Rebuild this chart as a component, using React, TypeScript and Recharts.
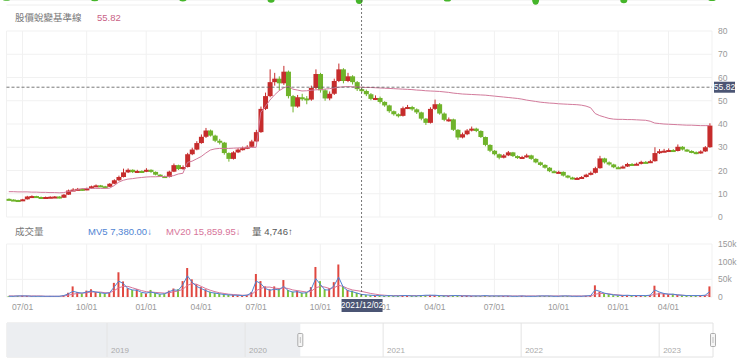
import {
  ComposedChart, Bar, Line, Scatter, XAxis, YAxis, CartesianGrid, ReferenceLine, ReferenceArea, Cell,
} from 'recharts';

const FONT = "'Liberation Sans', Arial, 'Noto Sans CJK TC', sans-serif";
const UP = '#c62c2c';
const DOWN = '#6fb32a';
const BASE_C = '#d27a9b';
const MV5_C = '#4f84d3';
const MV20_C = '#d7759a';
const GRID_C = '#f1f1f1';
const TICK_C = '#999';
const TAG_C = '#4b5574';

// weekly candles, 2020/06 -> 2023/05
const OPEN = [
  7.8, 7.5, 7.3, 7.1, 7.6, 8.8, 9.0, 8.6, 8.4, 8.6, 8.7, 8.8, 8.3, 9.6, 11.4, 11.8, 12.1, 11.6, 12.3, 13.2,
  13.6, 13.2, 13.0, 14.3, 15.8, 17.2, 19.2, 20.3, 19.3, 19.8, 19.5, 20.3, 19.4, 18.2, 17.6, 17.2, 19.5, 22.3, 20.6, 21.5,
  27.0, 29.0, 31.8, 34.5, 37.2, 35.0, 32.8, 32.0, 27.5, 25.0, 27.8, 29.0, 29.6, 30.2, 32.5, 36.5, 46.5, 52.0, 58.0, 59.5,
  57.5, 62.5, 52.0, 47.5, 51.5, 51.0, 50.5, 55.5, 61.5, 54.5, 51.0, 53.0, 58.5, 63.5, 58.5, 60.5, 58.0, 55.0, 54.2, 52.8,
  50.8, 51.2, 49.5, 48.0, 45.5, 44.2, 43.5, 46.8, 47.3, 46.3, 45.0, 42.3, 40.5, 46.5, 48.5, 44.5, 41.8, 42.0, 37.5, 34.2,
  35.6, 37.2, 38.0, 37.0, 34.4, 31.0, 28.5, 27.0, 25.5, 26.5, 27.8, 26.2, 25.4, 25.8, 26.5, 25.0, 23.5, 22.4, 21.2, 19.7,
  19.3, 19.4, 17.8, 17.0, 16.6, 16.8, 17.2, 18.2, 19.0, 21.0, 25.2, 23.5, 22.6, 21.4, 21.2, 21.7, 22.8, 22.6, 22.9, 23.7,
  23.5, 24.0, 27.5, 28.3, 28.5, 28.8, 28.4, 30.2, 29.0, 28.4, 27.9, 27.4, 28.2, 30.0,
];
const HIGH = [
  8.0, 7.6, 7.4, 7.8, 9.1, 9.3, 9.1, 8.8, 8.8, 8.9, 9.0, 8.9, 9.9, 11.8, 12.4, 12.5, 12.3, 12.6, 13.5, 14.0,
  13.8, 13.4, 14.6, 16.2, 17.8, 20.8, 20.9, 20.5, 20.3, 20.1, 21.0, 20.5, 19.6, 18.4, 17.8, 19.9, 23.0, 22.5, 22.2, 27.6,
  29.8, 32.6, 35.5, 38.3, 37.6, 35.4, 33.6, 32.3, 27.8, 28.3, 29.6, 30.3, 30.9, 33.2, 37.5, 47.5, 53.5, 63.5, 62.0, 60.5,
  65.0, 63.0, 52.5, 52.5, 53.0, 52.0, 56.5, 63.5, 62.0, 55.0, 54.0, 59.5, 66.0, 64.0, 62.0, 61.0, 58.5, 55.8, 54.8, 53.3,
  52.3, 51.8, 49.8, 48.3, 45.8, 44.6, 47.5, 48.2, 47.8, 46.7, 45.3, 42.6, 47.2, 50.5, 49.0, 45.0, 42.8, 42.3, 37.8, 36.3,
  37.8, 38.9, 38.4, 37.3, 34.6, 31.3, 28.8, 27.3, 27.1, 28.4, 28.0, 26.5, 26.3, 27.2, 26.8, 25.3, 23.8, 22.7, 21.5, 20.1,
  19.9, 19.6, 18.1, 17.3, 17.2, 17.6, 18.6, 19.6, 21.6, 26.3, 25.5, 23.9, 22.9, 21.8, 22.2, 23.3, 23.2, 23.4, 24.2, 24.1,
  24.6, 30.0, 29.2, 29.3, 29.5, 29.2, 31.2, 30.5, 29.3, 28.7, 28.2, 28.7, 30.5, 40.3,
];
const LOW = [
  7.3, 7.1, 6.9, 7.0, 7.5, 8.6, 8.4, 8.2, 8.3, 8.4, 8.5, 8.0, 8.2, 9.5, 11.2, 11.6, 11.3, 11.5, 12.1, 13.0,
  12.9, 12.7, 12.9, 14.1, 15.5, 17.0, 18.9, 18.9, 19.0, 19.1, 19.3, 19.0, 17.9, 17.3, 16.8, 17.0, 19.3, 20.2, 20.3, 21.3,
  26.6, 28.7, 31.5, 34.0, 34.6, 32.2, 31.2, 26.8, 23.8, 24.7, 27.5, 28.6, 29.2, 30.0, 32.2, 36.2, 46.0, 51.5, 56.5, 54.5,
  56.8, 51.0, 45.0, 47.0, 50.0, 48.5, 50.0, 55.0, 53.5, 50.0, 50.2, 52.5, 58.0, 57.5, 58.0, 57.0, 54.2, 53.5, 52.0, 50.2,
  50.3, 48.8, 47.4, 44.8, 43.6, 42.8, 43.2, 46.4, 45.7, 44.3, 41.6, 39.6, 40.2, 46.0, 44.0, 41.2, 41.0, 37.0, 33.2, 33.8,
  35.2, 36.8, 36.5, 34.0, 30.4, 27.9, 26.5, 24.8, 25.2, 26.2, 25.8, 25.0, 25.1, 25.5, 24.6, 23.1, 22.0, 20.8, 19.3, 18.9,
  19.0, 17.4, 16.6, 16.2, 16.3, 16.5, 17.0, 17.9, 18.7, 20.8, 23.0, 22.1, 21.0, 20.8, 20.9, 21.5, 22.1, 22.3, 22.6, 23.1,
  23.2, 23.8, 27.1, 27.9, 28.2, 28.0, 28.2, 28.6, 28.0, 27.4, 27.0, 27.2, 28.0, 29.8,
];
const CLOSE = [
  7.5, 7.3, 7.1, 7.6, 8.8, 9.0, 8.6, 8.4, 8.6, 8.7, 8.8, 8.3, 9.6, 11.4, 11.8, 12.1, 11.6, 12.3, 13.2, 13.6,
  13.2, 13.0, 14.3, 15.8, 17.2, 19.2, 20.3, 19.3, 19.8, 19.5, 20.3, 19.4, 18.2, 17.6, 17.2, 19.5, 22.3, 20.6, 21.5, 27.0,
  29.0, 31.8, 34.5, 37.2, 35.0, 32.8, 32.0, 27.5, 25.0, 27.8, 29.0, 29.6, 30.2, 32.5, 36.5, 46.5, 52.0, 58.0, 59.5, 57.5,
  62.5, 52.0, 47.5, 51.5, 51.0, 50.5, 55.5, 61.5, 54.5, 51.0, 53.0, 58.5, 63.5, 58.5, 60.5, 58.0, 55.0, 54.2, 52.8, 50.8,
  51.2, 49.5, 48.0, 45.5, 44.2, 43.5, 46.8, 47.3, 46.3, 45.0, 42.3, 40.5, 46.5, 48.5, 44.5, 41.8, 42.0, 37.5, 34.2, 35.6,
  37.2, 38.0, 37.0, 34.4, 31.0, 28.5, 27.0, 25.5, 26.5, 27.8, 26.2, 25.4, 25.8, 26.5, 25.0, 23.5, 22.4, 21.2, 19.7, 19.3,
  19.4, 17.8, 17.0, 16.6, 16.8, 17.2, 18.2, 19.0, 21.0, 25.2, 23.5, 22.6, 21.4, 21.2, 21.7, 22.8, 22.6, 22.9, 23.7, 23.5,
  24.0, 27.5, 28.3, 28.5, 28.8, 28.4, 30.2, 29.0, 28.4, 27.9, 27.4, 28.2, 30.0, 39.3,
];
// 股價蛻變基準線
const BASE = [
  10.9, 10.9, 10.8, 10.8, 10.8, 10.7, 10.7, 10.6, 10.6, 10.5, 10.5, 10.4, 10.5, 11.0, 11.2, 11.8, 12.2, 12.3, 12.3, 12.3,
  12.3, 12.3, 12.4, 13.5, 15.0, 15.8, 16.3, 16.5, 16.8, 17.0, 17.2, 17.3, 17.3, 17.4, 17.4, 17.5, 17.8, 18.5, 18.8, 23.5,
  24.0, 25.0, 26.0, 27.5, 28.8, 29.3, 29.5, 29.5, 29.5, 29.6, 29.7, 29.8, 29.8, 29.9, 30.0, 45.0, 47.5, 50.3, 52.5, 54.3,
  55.5, 56.3, 55.0, 54.6, 54.2, 54.3, 54.5, 54.7, 54.8, 55.0, 55.2, 55.5, 55.8, 56.0, 56.1, 56.0, 55.9, 55.82, 55.7, 55.7,
  55.6, 55.5, 55.4, 55.3, 55.2, 55.1, 55.0, 54.9, 54.8, 54.6, 54.5, 54.3, 54.2, 54.1, 54.0, 53.8, 53.6, 53.3, 53.1, 52.9,
  52.8, 52.7, 52.6, 52.5, 52.4, 52.2, 52.0, 51.8, 51.6, 51.4, 51.2, 51.0, 50.7, 50.3, 50.0, 49.7, 49.4, 49.2, 49.0, 48.9,
  48.7, 48.6, 48.5, 48.4, 48.3, 48.1, 47.7, 47.0, 44.5, 43.6, 43.0, 42.4, 42.1, 42.0, 42.0, 41.9, 41.9, 41.8, 41.7, 41.6,
  41.2, 40.4, 40.2, 40.0, 39.9, 39.8, 39.7, 39.6, 39.5, 39.5, 39.4, 39.3, 39.3, 39.3,
];
// volume, thousands
const VOL = [
  2, 2, 3, 4, 3, 2, 2, 2, 2, 3, 2, 2, 5, 12, 30, 14, 10, 18, 22, 14,
  12, 9, 12, 40, 70, 44, 25, 20, 22, 12, 10, 20, 12, 8, 10, 18, 24, 22, 45, 82,
  50, 36, 28, 22, 15, 12, 10, 8, 7, 6, 5, 4, 6, 14, 65, 45, 30, 22, 30, 25,
  48, 20, 15, 18, 12, 14, 28, 85, 45, 22, 25, 42, 92, 30, 20, 18, 12, 8, 6, 5,
  4, 4, 3, 4, 3, 3, 5, 4, 3, 3, 4, 5, 6, 5, 4, 3, 3, 4, 5, 3,
  3, 3, 3, 3, 4, 3, 3, 3, 3, 3, 2, 2, 3, 2, 2, 2, 3, 3, 3, 2,
  2, 3, 3, 2, 2, 2, 3, 4, 33, 15, 10, 8, 5, 4, 4, 5, 4, 4, 4, 4,
  6, 32, 12, 10, 8, 9, 6, 5, 4, 4, 4, 4, 5, 30,
];
const MV5 = [
  2, 2, 3, 3, 3, 2, 2, 2, 2, 2, 2, 2, 4, 9, 16, 13, 11, 14, 17, 14,
  12, 10, 12, 28, 45, 38, 24, 20, 19, 13, 11, 14, 11, 8, 9, 15, 20, 19, 35, 60,
  42, 30, 24, 18, 13, 11, 9, 7, 6, 5, 5, 4, 5, 12, 45, 38, 24, 19, 22, 20,
  30, 18, 14, 15, 11, 12, 22, 52, 36, 20, 20, 32, 56, 28, 18, 15, 11, 7.38, 6, 5,
  4, 4, 3, 4, 3, 3, 4, 4, 3, 3, 4, 5, 5, 5, 4, 3, 3, 4, 4, 3,
  3, 3, 3, 3, 4, 3, 3, 3, 3, 3, 2, 2, 3, 2, 2, 2, 3, 3, 3, 2,
  2, 3, 3, 2, 2, 2, 3, 4, 20, 16, 11, 8, 6, 5, 4, 5, 4, 4, 4, 4,
  5, 20, 14, 10, 8, 8, 6, 5, 4, 4, 4, 4, 5, 15,
];
const MV20 = [
  3, 3, 3, 3, 3, 3, 3, 3, 2, 2, 2, 2, 3, 5, 8, 10, 11, 12, 14, 14,
  14, 12, 12, 18, 26, 30, 30, 26, 22, 18, 15, 14, 13, 12, 11, 12, 15, 17, 22, 33,
  38, 36, 30, 24, 19, 15, 12, 10, 8, 7, 6, 5, 5, 7, 18, 24, 28, 28, 25, 24,
  26, 24, 20, 18, 16, 14, 16, 26, 30, 28, 24, 26, 33, 30, 24, 20, 18, 15.86, 13, 10,
  8, 6, 5, 4, 4, 4, 4, 4, 4, 4, 4, 4, 4, 4, 4, 4, 4, 4, 4, 4,
  4, 3, 3, 3, 3, 3, 3, 3, 3, 3, 3, 3, 3, 3, 3, 3, 3, 3, 3, 3,
  3, 3, 3, 3, 3, 3, 3, 3, 8, 10, 10, 9, 7, 6, 5, 4, 4, 4, 4, 4,
  4, 8, 9, 9, 8, 7, 6, 5, 4, 4, 4, 4, 4, 6,
];

const TICK_IDX = [3, 17, 30, 42, 54, 68, 81, 93, 106, 120, 133, 144];
const TICK_LABELS = ['07/01', '10/01', '01/01', '04/01', '07/01', '10/01', '01/01', '04/01', '07/01', '10/01', '01/01', '04/01'];
const PRICE_TICKS = [0, 10, 20, 30, 40, 50, 60, 70, 80];
const VOL_TICKS = [0, 50, 100, 150];

const CROSS_IDX = 77;
const CROSS_DATE = '2021/12/02';
const BASE_NOW = 55.82;
const MV5_TEXT = 'MV5 7,380.00↓';
const MV20_TEXT = 'MV20 15,859.95↓';
const QTY_TEXT = '量 4,746↑';

// bottoms of the indicator panel above (cut off)
const BLOB_IDX = [33, 61, 81, 90, 104, 106, 116, 119, 132];
const BLOB_LOW = [4.2, 3.8, 3.6, 2.2, 1.0, 3.4, 0.2, 1.8, 4.0];

const NAV_YEARS = [2019, 2020, 2021, 2022, 2023];
const NAV_START = 2018.275;
const NAV_END = 2023.39;
const NAV_SEL = 2020.4;

const rows = CLOSE.map((c, i) => ({
  i, o: OPEN[i], h: HIGH[i], l: LOW[i], c, base: BASE[i], v: VOL[i], mv5: MV5[i], mv20: MV20[i],
}));
const blobs = BLOB_IDX.map((i, k) => ({ i, lo: BLOB_LOW[k] }));
const tickText = (v: number) => TICK_LABELS[TICK_IDX.indexOf(v)] ?? '';
const axisTick = { fontSize: 8.5, fill: TICK_C, fontFamily: FONT };

function Candle(props: any) {
  const { x, y, width, height, payload } = props;
  if (!payload) return null;
  const { o, h, l, c } = payload;
  const color = c >= o ? UP : DOWN;
  const top = Math.min(y, y + height);
  const span = Math.abs(height);
  const k = h > l ? span / (h - l) : 0;
  const bTop = top + (h - Math.max(o, c)) * k;
  const bH = Math.max(2, Math.abs(o - c) * k);
  const cx = x + width / 2;
  return (
    <g>
      <line x1={cx} x2={cx} y1={top} y2={top + span} stroke={color} strokeWidth={1} />
      <rect x={x} y={bTop} width={width} height={bH} fill={color} />
    </g>
  );
}

function Blob(props: any) {
  const { cx, cy } = props;
  return <ellipse cx={cx} cy={0} rx={3.5} ry={cy} fill="#45b52a" />;
}

function Handle(props: any) {
  const x = props.x1;
  const mid = (props.y1 + props.y2) / 2;
  return (
    <g>
      <rect x={x - 2.5} y={mid - 6.5} width={5} height={13} rx={1} fill="#f5f5f5" stroke="#9a9a9a" strokeWidth={0.8} />
      <line x1={x} x2={x} y1={mid - 3} y2={mid + 3} stroke="#9a9a9a" strokeWidth={0.6} />
    </g>
  );
}

const txt = (left: number, top: number, color: string, size = 9.5): React.CSSProperties => ({
  position: 'absolute', left, top, color, fontSize: size, lineHeight: '12px', whiteSpace: 'nowrap', fontFamily: FONT,
});

export default function App() {
  return (
    <div style={{ position: 'absolute', left: 0, top: 0, width: 740, height: 358, background: '#fff', overflow: 'hidden', fontFamily: FONT }}>
      {/* cut-off indicator panel */}
      <div style={{ position: 'absolute', left: 0, top: 0 }}>
        <ComposedChart width={740} height={10} data={rows} margin={{ top: 0, right: 0, bottom: 5, left: 6.5 }}>
          <CartesianGrid stroke="#eeeeee" vertical={false} />
          <XAxis dataKey="i" type="category" hide />
          <YAxis orientation="right" width={28} domain={[0, 5]} ticks={[0]} axisLine={false} tickLine={false}
            tickSize={0} tickMargin={6} tick={axisTick} />
          <Scatter data={blobs} dataKey="lo" shape={Blob} isAnimationActive={false} />
        </ComposedChart>
      </div>

      {/* price panel */}
      <div style={{ position: 'absolute', left: 0, top: 0 }}>
        <ComposedChart width={740} height={230} data={rows} barCategoryGap={0}
          margin={{ top: 31, right: 0, bottom: 13, left: 6.5 }}>
          <CartesianGrid stroke={GRID_C} />
          <XAxis dataKey="i" type="category" ticks={TICK_IDX} hide />
          <YAxis orientation="right" width={28} domain={[0, 80]} ticks={PRICE_TICKS} axisLine={false} tickLine={false}
            tickSize={0} tickMargin={6} tick={axisTick} />
          <Line dataKey="base" stroke={BASE_C} strokeWidth={1} dot={false} isAnimationActive={false} />
          <Bar dataKey={(d: any) => [d.l, d.h]} shape={Candle} isAnimationActive={false} />
          <ReferenceLine y={BASE_NOW} shape={(p: any) => {
            const xr = Math.max(p.x1, p.x2);
            return (
              <g>
                <line x1={Math.min(p.x1, p.x2)} x2={xr} y1={p.y1} y2={p.y1} stroke="#555" strokeDasharray="3 2" strokeWidth={0.8} />
                <rect x={xr + 2} y={p.y1 - 5.5} width={21} height={11} fill={TAG_C} />
                <text x={xr + 12.5} y={p.y1} dy="0.35em" textAnchor="middle" fill="#fff" fontSize={8.5} fontFamily={FONT}>{BASE_NOW}</text>
              </g>
            );
          }} />
          <ReferenceLine x={CROSS_IDX} shape={(p: any) => (
            <line x1={p.x1} x2={p.x1} y1={0} y2={230} stroke="#555" strokeDasharray="2 2" strokeWidth={0.8} />
          )} />
        </ComposedChart>
      </div>

      {/* volume panel */}
      <div style={{ position: 'absolute', left: 0, top: 230 }}>
        <ComposedChart width={740} height={88} data={rows} margin={{ top: 14, right: 0, bottom: 0, left: 6.5 }}>
          <CartesianGrid stroke={GRID_C} />
          <XAxis dataKey="i" type="category" ticks={TICK_IDX} interval={0} tickFormatter={tickText} height={21}
            axisLine={false} tickLine={false} tickSize={2} tickMargin={5} tick={axisTick} />
          <YAxis orientation="right" width={28} domain={[0, 150]} ticks={VOL_TICKS} axisLine={false} tickLine={false}
            tickSize={0} tickMargin={6} tick={axisTick} tickFormatter={(v: number) => (v === 0 ? '0' : `${v}k`)} />
          <Bar dataKey="v" barSize={2} isAnimationActive={false}>
            {rows.map((r) => <Cell key={r.i} fill={r.c >= r.o ? '#e0473f' : '#7cc23a'} />)}
          </Bar>
          <Line dataKey="mv20" stroke={MV20_C} strokeWidth={1} dot={false} isAnimationActive={false} />
          <Line dataKey="mv5" stroke={MV5_C} strokeWidth={1} dot={false} isAnimationActive={false} />
        </ComposedChart>
      </div>

      {/* crosshair over the volume panel, drawn above its axis labels */}
      <div style={{ position: 'absolute', left: 0, top: 230 }}>
        <ComposedChart width={740} height={88} data={rows} margin={{ top: 14, right: 28, bottom: 21, left: 6.5 }}>
          <XAxis dataKey="i" type="category" hide />
          <YAxis domain={[0, 150]} hide />
          <Line dataKey="v" stroke="none" dot={false} isAnimationActive={false} />
          <ReferenceLine x={CROSS_IDX} shape={(p: any) => {
            const bottom = Math.max(p.y1, p.y2);
            return (
              <g>
                <line x1={p.x1} x2={p.x1} y1={0} y2={bottom} stroke="#555" strokeDasharray="2 2" strokeWidth={0.8} />
                <rect x={p.x1 - 20} y={bottom + 2} width={41} height={13} fill={TAG_C} />
                <text x={p.x1 + 0.5} y={bottom + 8.5} dy="0.35em" textAnchor="middle" fill="#fff" fontSize={8.5} fontFamily={FONT}>{CROSS_DATE}</text>
              </g>
            );
          }} />
        </ComposedChart>
      </div>

      {/* navigator */}
      <div style={{ position: 'absolute', left: 0, top: 318 }}>
        <ComposedChart width={740} height={40} data={[{ x: NAV_START, y: 0 }, { x: NAV_END, y: 0 }]}
          margin={{ top: 5, right: 27, bottom: 1, left: 7 }}>
          <XAxis dataKey="x" type="number" domain={[NAV_START, NAV_END]} hide />
          <YAxis domain={[0, 1]} hide />
          <ReferenceArea x1={NAV_START} x2={NAV_END} y1={0} y2={1} fill="#fff" fillOpacity={1} stroke="#e2e2e2" />
          <ReferenceArea x1={NAV_START} x2={NAV_SEL} y1={0} y2={1} fill="#eceef1" fillOpacity={1} stroke="none" />
          {NAV_YEARS.map((yr) => (
            <ReferenceLine key={yr} x={yr} stroke="#e4e4e4"
              label={{ value: String(yr), position: 'insideBottomLeft', offset: 4, fill: '#aaa', fontSize: 8, fontFamily: FONT }} />
          ))}
          <ReferenceLine x={NAV_SEL} shape={Handle} />
          <ReferenceLine x={NAV_END} shape={Handle} />
          <Line dataKey="y" stroke="none" dot={false} isAnimationActive={false} />
        </ComposedChart>
      </div>

      {/* panel headers */}
      <div style={txt(15, 12, '#777')}>股價蛻變基準線</div>
      <div style={txt(97, 12, '#c95f86')}>{BASE_NOW}</div>
      <div style={txt(15, 226, '#777')}>成交量</div>
      <div style={txt(88, 226, MV5_C)}>{MV5_TEXT}</div>
      <div style={txt(166, 226, MV20_C)}>{MV20_TEXT}</div>
      <div style={txt(252, 226, '#555')}>{QTY_TEXT}</div>
    </div>
  );
}
